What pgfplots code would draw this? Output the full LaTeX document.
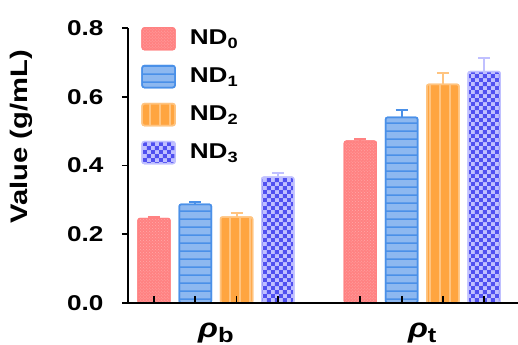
\documentclass[border=0pt]{standalone}
\usepackage{fontspec}
\setmainfont{Liberation Sans}[FakeStretch=1.22]
\usepackage{pgfplots}
\pgfplotsset{compat=1.18}
\usetikzlibrary{patterns}

\pgfdeclarepatternformonly{myhlines}{\pgfpointorigin}{\pgfqpoint{4pt}{7.5pt}}{\pgfqpoint{4pt}{7.5pt}}{\pgfpathrectangle{\pgfpointorigin}{\pgfqpoint{4pt}{1.8pt}}\pgfusepath{fill}}
\pgfdeclarepatternformonly{myvlines}{\pgfpointorigin}{\pgfqpoint{10pt}{4pt}}{\pgfqpoint{10pt}{4pt}}{\pgfpathrectangle{\pgfpointorigin}{\pgfqpoint{2pt}{4pt}}\pgfusepath{fill}}
\pgfdeclarepatternformonly{mychecker}{\pgfpointorigin}{\pgfqpoint{8pt}{8pt}}{\pgfqpoint{8pt}{8pt}}{\pgfpathrectangle{\pgfpointorigin}{\pgfqpoint{4pt}{4pt}}\pgfpathrectangle{\pgfqpoint{4pt}{4pt}}{\pgfqpoint{4pt}{4pt}}\pgfusepath{fill}}

\definecolor{nd0}{HTML}{FF8282}
\definecolor{nd0light}{HTML}{FFA8A8}
\definecolor{nd1}{HTML}{4A90E8}
\definecolor{nd1fill}{HTML}{8DB8F0}
\definecolor{nd2}{HTML}{FFA540}
\definecolor{nd2light}{HTML}{FFC480}
\definecolor{nd3}{HTML}{C0C0FF}
\definecolor{nd3dark}{HTML}{5050F0}

\newcommand\sub[3][15]{\raisebox{-#2}{\fontsize{#1}{#1}\selectfont\bfseries #3}}

\pgfplotstableread{
x y e
1 0.246 0.004
6 0.471 0.007
}\tabA
\pgfplotstableread{
x y e
2 0.287 0.007
7 0.540 0.021
}\tabB
\pgfplotstableread{
x y e
3 0.250 0.012
8 0.636 0.034
}\tabC
\pgfplotstableread{
x y e
4 0.366 0.012
9 0.673 0.039
}\tabD

\pgfplotsset{
  myleg/.style={legend image code/.code={\draw[##1, rounded corners=2.5bp] (0bp,-11bp) rectangle (33bp,11bp);}},
}

\begin{document}
\begin{tikzpicture}
\begin{axis}[
  at={(128bp,42bp)}, anchor=south west,
  scale only axis, width=390bp, height=275bp,
  xmin=0.37, xmax=9.82, ymin=0, ymax=0.8,
  axis on top,
  axis lines*=left,
  axis line style={line width=1.6bp, -},
  tick align=outside,
  major tick length=6bp,
  every tick/.style={line width=1.6bp, black},
  ytick={0,0.2,0.4,0.6,0.8},
  yticklabel style={font=\fontsize{21.5}{21.5}\selectfont\bfseries, xshift=-15bp, /pgf/number format/fixed, /pgf/number format/fixed zerofill, /pgf/number format/precision=1, /pgf/number format/assume math mode=true},
  xtick={1,2,3,4,6,7,8,9},
  xticklabels={,,,,,,,},
  xtick style={yshift=6.5bp, black, line width=1.8bp},
  extra x ticks={2.5,7.5},
  extra x tick labels={{\textit{ρ}\sub[21]{5bp}{b}},{\textit{ρ}\sub[21]{5bp}{t}}},
  extra x tick style={major tick length=0pt, xticklabel style={font=\fontsize{27}{27}\selectfont\bfseries, anchor=base, yshift=-34bp}},
  ylabel={Value (g/mL)},
  ylabel style={at={(axis description cs:-0.236,0.604)}, anchor=south, font=\fontsize{24}{24}\selectfont\bfseries},
  legend style={at={(rel axis cs:0.026,1.011)}, anchor=north west, draw=none, fill=none,
    font=\fontsize{21.5}{21.5}\selectfont\bfseries, row sep=14.5bp,
    nodes={inner ysep=0pt, text height=15bp, text depth=4bp},
    /tikz/every odd column/.append style={column sep=12bp}},
  legend cell align=left,
  ybar, bar width=0.776, bar shift=0pt,
]
\addplot[myleg, draw=nd0, fill=nd0, line width=1.2bp, rounded corners=2bp,
  postaction={pattern=crosshatch dots, pattern color=nd0light},
  error bars/.cd, y dir=plus, y explicit,
  error bar style={line width=2bp, nd0, rounded corners=0pt},
  error mark options={rotate=90, mark size=6bp, line width=2bp, nd0}]
  table[x=x, y=y, y error=e] {\tabA};
\addlegendentry{ND\sub{4bp}{0}}
\addplot[myleg, draw=nd1, fill=nd1fill, line width=1.5bp, rounded corners=2bp,
  postaction={pattern=myhlines, pattern color=nd1},
  error bars/.cd, y dir=plus, y explicit,
  error bar style={line width=2bp, nd1, rounded corners=0pt},
  error mark options={rotate=90, mark size=6bp, line width=2bp, nd1}]
  table[x=x, y=y, y error=e] {\tabB};
\addlegendentry{ND\sub{4bp}{1}}
\addplot[myleg, draw=nd2light, fill=nd2, line width=1.5bp, rounded corners=2bp,
  postaction={pattern=myvlines, pattern color=nd2light},
  error bars/.cd, y dir=plus, y explicit,
  error bar style={line width=2bp, nd2light, rounded corners=0pt},
  error mark options={rotate=90, mark size=6bp, line width=2bp, nd2light}]
  table[x=x, y=y, y error=e] {\tabC};
\addlegendentry{ND\sub{4bp}{2}}
\addplot[myleg, draw=nd3, fill=nd3, line width=1.5bp, rounded corners=2bp,
  postaction={pattern=mychecker, pattern color=nd3dark},
  error bars/.cd, y dir=plus, y explicit,
  error bar style={line width=2bp, nd3, rounded corners=0pt},
  error mark options={rotate=90, mark size=6bp, line width=2bp, nd3}]
  table[x=x, y=y, y error=e] {\tabD};
\addlegendentry{ND\sub{4bp}{3}}
\end{axis}
\pgfresetboundingbox
\useasboundingbox (0,0) rectangle (518bp,345bp);
\end{tikzpicture}
\end{document}
